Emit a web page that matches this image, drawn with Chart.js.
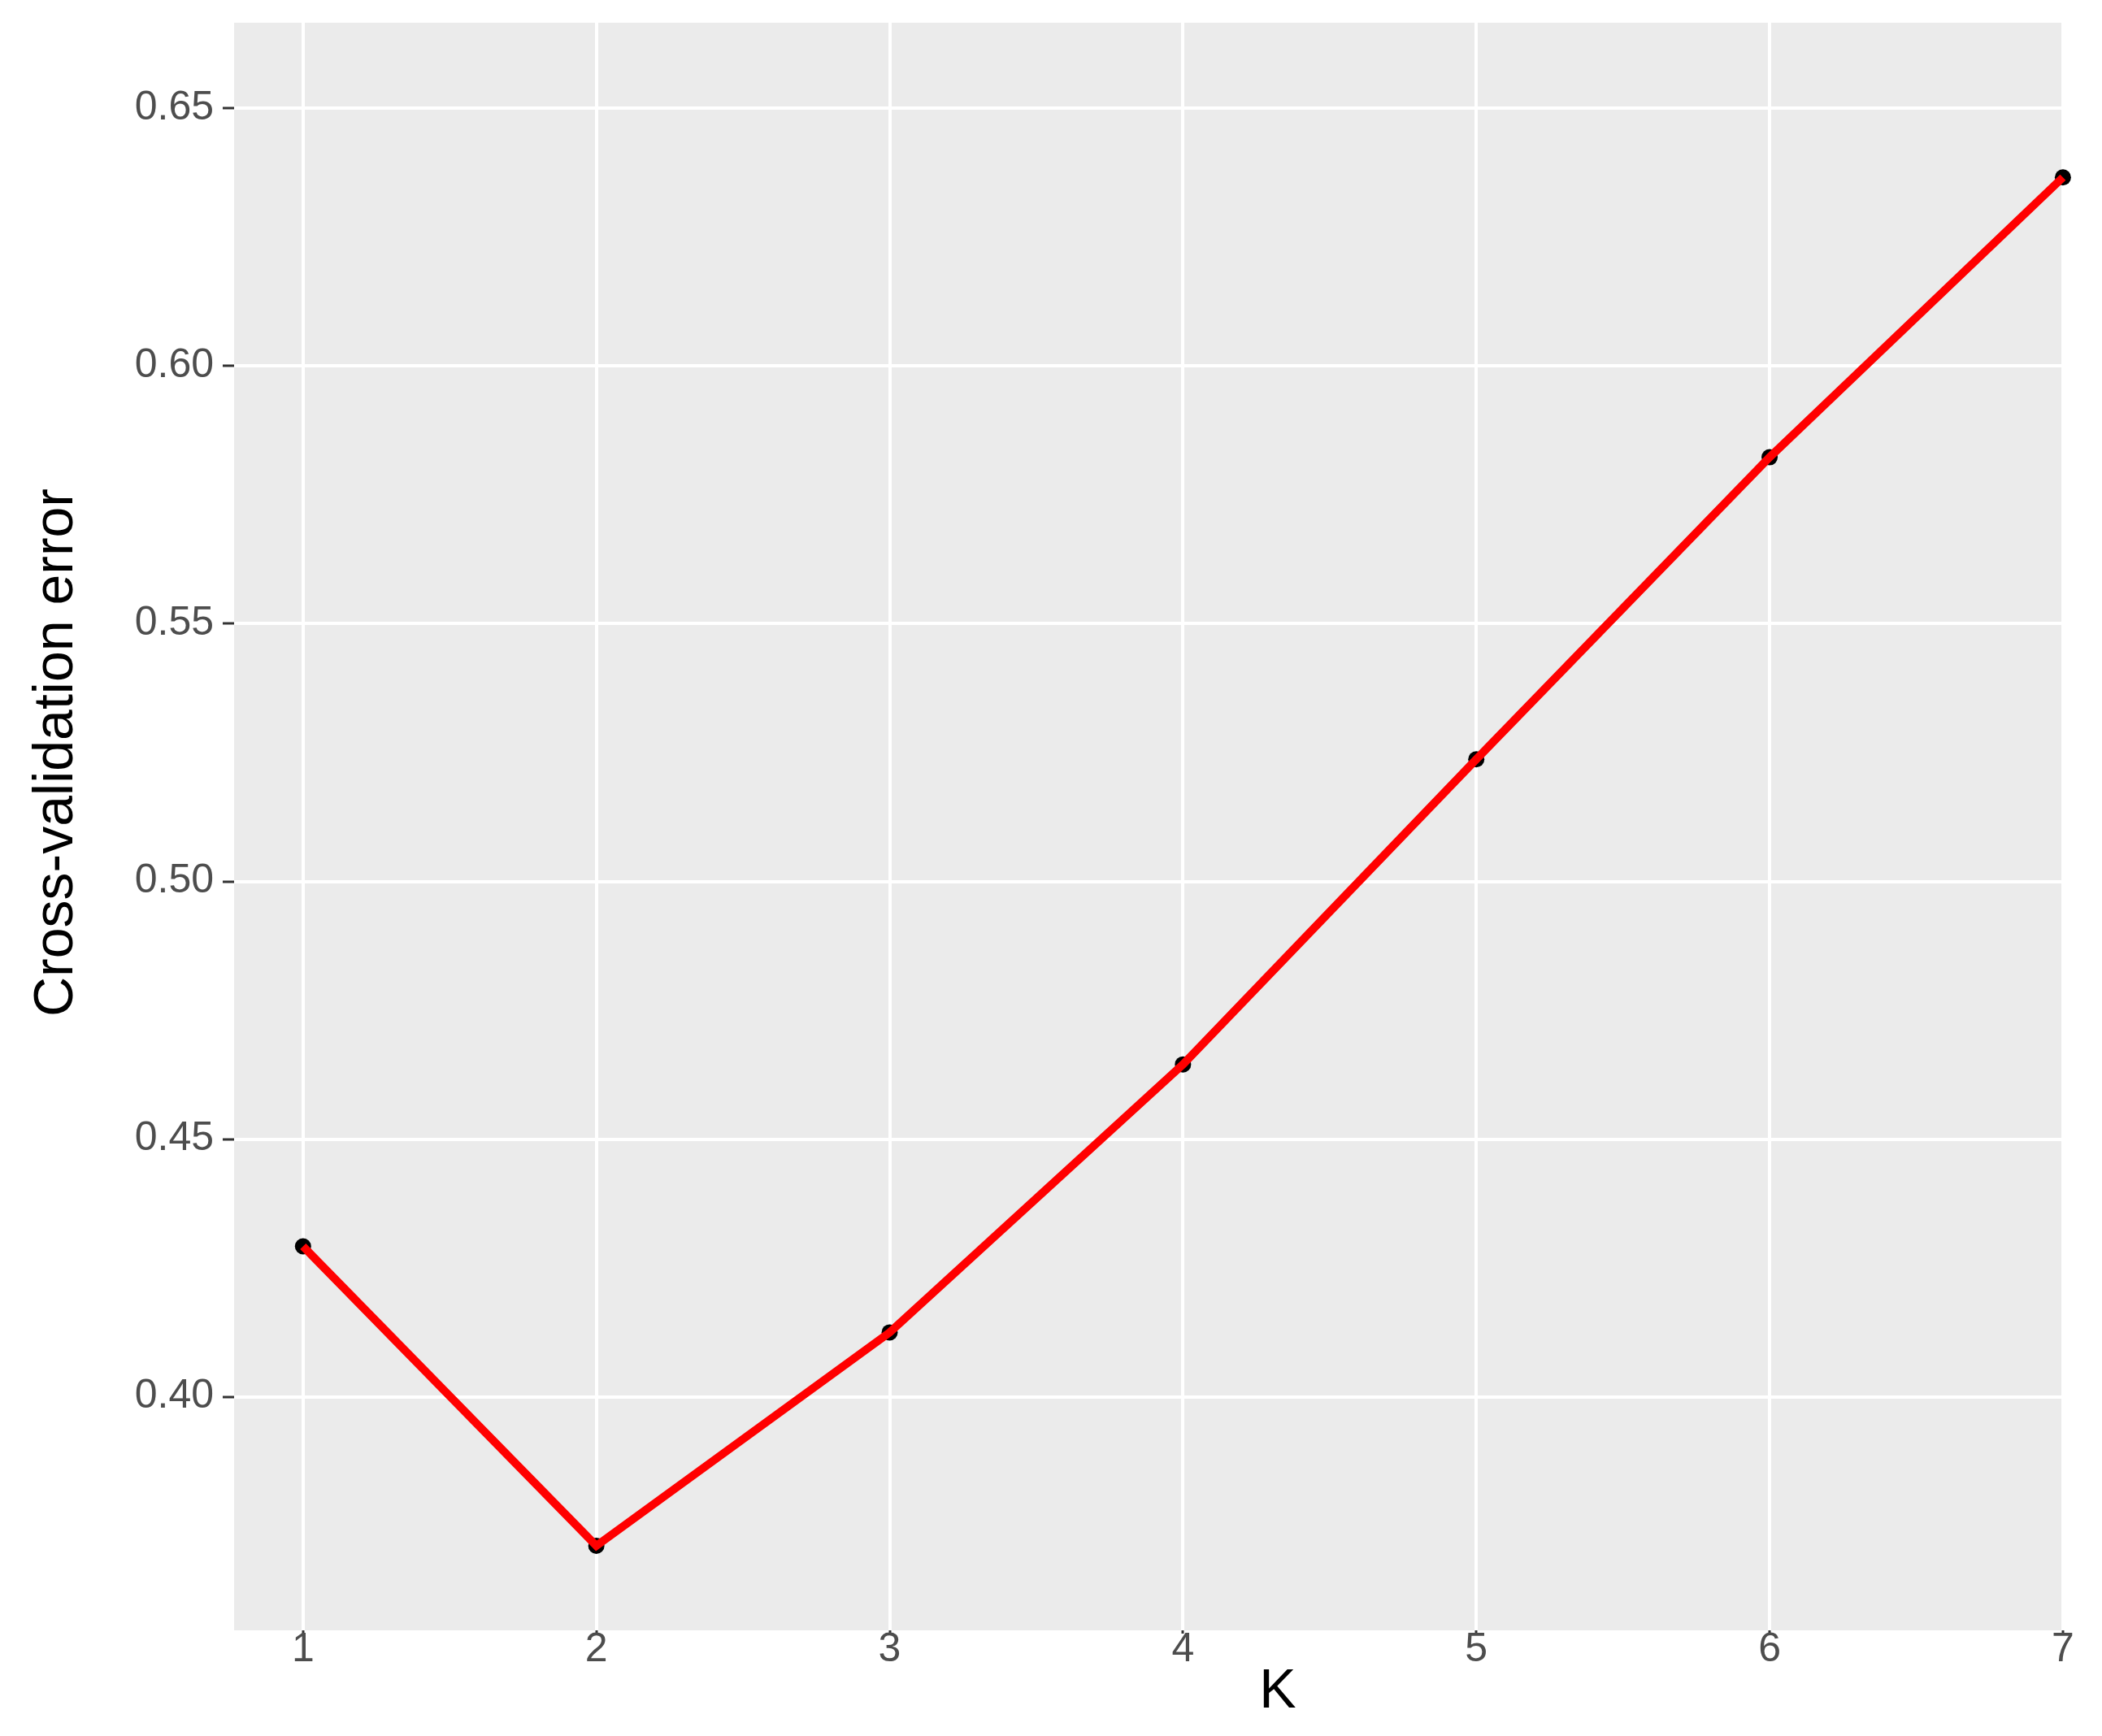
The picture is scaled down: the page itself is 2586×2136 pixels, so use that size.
<!DOCTYPE html>
<html lang="en">
<head>
  <meta charset="UTF-8" />
  <title>Cross-validation error by K</title>
  <script src="https://cdn.jsdelivr.net/npm/chart.js"></script>
  <style>
    body { margin: 0; background: white; }
    #wrap { width: 2586px; height: 2136px; }
  </style>
</head>
<body>
  <div id="wrap">
    <canvas id="cvChart" width="2586" height="2136"></canvas>
  </div>

  <script>
    // values
    const kValues = [1, 2, 3, 4, 5, 6, 7];
    const cvError = [0.4292, 0.3711, 0.4125, 0.4645, 0.5237, 0.5823, 0.6366];
    const xTicks = [1, 2, 3, 4, 5, 6, 7];
    const yTicks = [0.40, 0.45, 0.50, 0.55, 0.60, 0.65];
    const xTitle = 'K';
    const yTitle = 'Cross-validation error';

    const FONT = '"Liberation Sans", Arial, sans-serif';

    const points = kValues.map((k, i) => ({ x: k, y: cvError[i] }));

    // grey ggplot panel behind everything
    const panelBg = {
      id: 'panelBg',
      beforeDraw(chart) {
        const { ctx, chartArea: a } = chart;
        ctx.save();
        ctx.fillStyle = '#EBEBEB';
        ctx.fillRect(a.left, a.top, a.right - a.left, a.bottom - a.top);
        ctx.restore();
      }
    };

    // axis titles sit off-centre in the reference, so draw them here
    const axisTitles = {
      id: 'axisTitles',
      afterDraw(chart) {
        const { ctx } = chart;
        ctx.save();
        ctx.fillStyle = '#000000';
        ctx.font = '68px ' + FONT;
        ctx.textAlign = 'center';
        ctx.textBaseline = 'alphabetic';
        ctx.fillText(xTitle, 1572, 2101);
        ctx.translate(89, 926);
        ctx.rotate(-Math.PI / 2);
        ctx.fillText(yTitle, 0, 0);
        ctx.restore();
      }
    };

    const chart = new Chart(document.getElementById('cvChart').getContext('2d'), {
      type: 'scatter',
      data: {
        datasets: [
          {
            type: 'line',
            label: 'line',
            data: points,
            borderColor: '#FF0000',
            borderWidth: 10,
            pointRadius: 0,
            fill: false,
            tension: 0,
            clip: false
          },
          {
            label: 'points',
            data: points,
            backgroundColor: '#000000',
            borderWidth: 0,
            pointRadius: 10,
            clip: false
          }
        ]
      },
      options: {
        responsive: false,
        animation: false,
        layout: { padding: { top: 28, right: 47, left: 0, bottom: 0 } },
        plugins: {
          legend: { display: false },
          tooltip: { enabled: false }
        },
        scales: {
          x: {
            type: 'linear',
            min: 0.765,
            max: 7.003,
            afterFit(s) {
              s.height = 130;
              s.paddingLeft = 0;
              s.paddingRight = 0;
            },
            afterBuildTicks(s) { s.ticks = xTicks.map(v => ({ value: v })); },
            grid: {
              color: '#FFFFFF',
              lineWidth: 4,
              tickColor: '#333333',
              tickWidth: 3,
              tickLength: 4
            },
            border: { display: false },
            ticks: {
              font: { family: FONT, size: 50 },
              color: '#4D4D4D',
              padding: -10,
              callback: v => String(v)
            }
          },
          y: {
            min: 0.3547,
            max: 0.6666,
            afterFit(s) {
              s.width = 288;
              s.paddingTop = 0;
              s.paddingBottom = 0;
            },
            afterBuildTicks(s) { s.ticks = yTicks.map(v => ({ value: v })); },
            grid: {
              color: '#FFFFFF',
              lineWidth: 4,
              tickColor: '#333333',
              tickWidth: 3,
              tickLength: 14
            },
            border: { display: false },
            ticks: {
              font: { family: FONT, size: 50 },
              color: '#4D4D4D',
              padding: 11,
              callback: v => v.toFixed(2)
            }
          }
        }
      },
      plugins: [panelBg, axisTitles]
    });
  </script>
</body>
</html>
